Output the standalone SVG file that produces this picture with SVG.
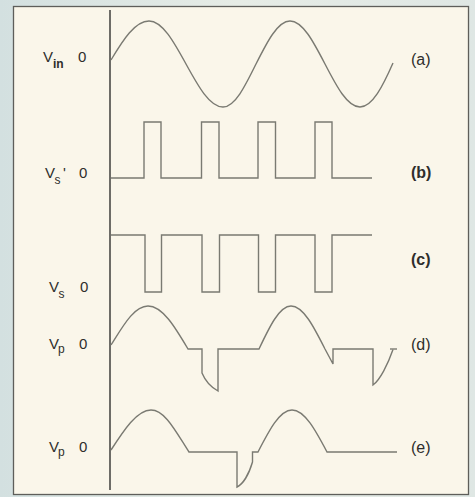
<svg xmlns="http://www.w3.org/2000/svg" width="475" height="497" viewBox="0 0 475 497">
<defs>
<linearGradient id="bg" x1="0" y1="0" x2="1" y2="0">
<stop offset="0" stop-color="#d3e0e0"/>
<stop offset="0.5" stop-color="#e6ece6"/>
<stop offset="1" stop-color="#dfe7e4"/>
</linearGradient>
<style>
.wave{fill:none;stroke:#7a7a72;stroke-width:1.4;stroke-linejoin:miter}
.axis{fill:none;stroke:#4a4a46;stroke-width:1.6}
.lbl{font-family:"Liberation Sans",Arial,sans-serif;font-size:15px;fill:#2e2e2c}
.sub{font-family:"Liberation Sans",Arial,sans-serif;font-size:12px;fill:#2e2e2c}
.tag{font-family:"Liberation Sans",Arial,sans-serif;font-size:16px;fill:#2e2e2c}
</style>
</defs>
<rect x="0" y="0" width="475" height="497" fill="url(#bg)"/>
<rect x="13.5" y="6.5" width="455" height="488" fill="#faf6ea" stroke="#5e5e5a" stroke-width="1.3"/>
<g id="axis"><line class="axis" x1="110" y1="10" x2="110" y2="490"/></g>

<g id="wave-a">
<path class="wave" d="M111,60 C123,40 135,21 149,21 C162.4,21 173.9,42 186,64 C198.1,86 209.6,107 223,107 C234.9,107 245.2,86 256,64 C267.1,42 277.7,21 290,21 C302.7,21 313.6,42 325,64 C336.4,86 347.3,107 360,107 C372.3,107 382.9,86 393,63"/>
<text class="lbl" x="43" y="62">V</text><text class="sub" x="53" y="68" font-weight="bold">in</text><text class="lbl" x="78" y="62">0</text>
<text class="tag" x="411" y="65">(a)</text>
</g>

<g id="wave-b">
<path class="wave" d="M111,178 L144,178 L144,122 L161,122 L161,178 L201.5,178 L201.5,122 L219,122 L219,178 L258,178 L258,122 L275.5,122 L275.5,178 L315,178 L315,122 L332,122 L332,178 L372,178"/>
<text class="lbl" x="45" y="178">V</text><text class="sub" x="54.5" y="184">s</text><text class="lbl" x="63" y="178">'</text><text class="lbl" x="79" y="178">0</text>
<text class="tag" x="411" y="178" font-weight="bold">(b)</text>
</g>

<g id="wave-c">
<path class="wave" d="M111,235 L145,235 L145,292 L161.5,292 L161.5,235 L202,235 L202,292 L219.5,292 L219.5,235 L258.5,235 L258.5,292 L275.5,292 L275.5,235 L315,235 L315,292 L332,292 L332,235 L372,235"/>
<text class="lbl" x="49" y="292">V</text><text class="sub" x="58.5" y="297.5">s</text><text class="lbl" x="80" y="292">0</text>
<text class="tag" x="411" y="265" font-weight="bold">(c)</text>
</g>

<g id="wave-d">
<path class="wave" d="M111,345 C123,326 134,306 148,306 C162.5,306 175,327 188,349 L202,349 L202,373 Q207,385 218,391 L218,349 L259,349 C269.4,327 279.4,306 291,306 C303.3,306 313.9,327 325,349 L333,364 L333,349 L373,349 L373,385 C380,380 388,364 393,349.5"/>
<path class="wave" d="M390,349 L397,349"/>
<text class="lbl" x="49" y="349">V</text><text class="sub" x="58" y="353">p</text><text class="lbl" x="79" y="349">0</text>
<text class="tag" x="411" y="350">(d)</text>
</g>

<g id="wave-e">
<path class="wave" d="M111,450 C124,430 137,410 151,410 C164.8,410 175.2,430.5 189,452 L237,452 L237,487 C243,484 249,474 252.5,462 L252.5,452 L258,452 C269.1,430.5 279.7,410 292,410 C304.7,410 315.6,430.5 327,452 L397,452"/>
<text class="lbl" x="49" y="452">V</text><text class="sub" x="58" y="456">p</text><text class="lbl" x="79" y="452">0</text>
<text class="tag" x="411" y="453">(e)</text>
</g>
</svg>
